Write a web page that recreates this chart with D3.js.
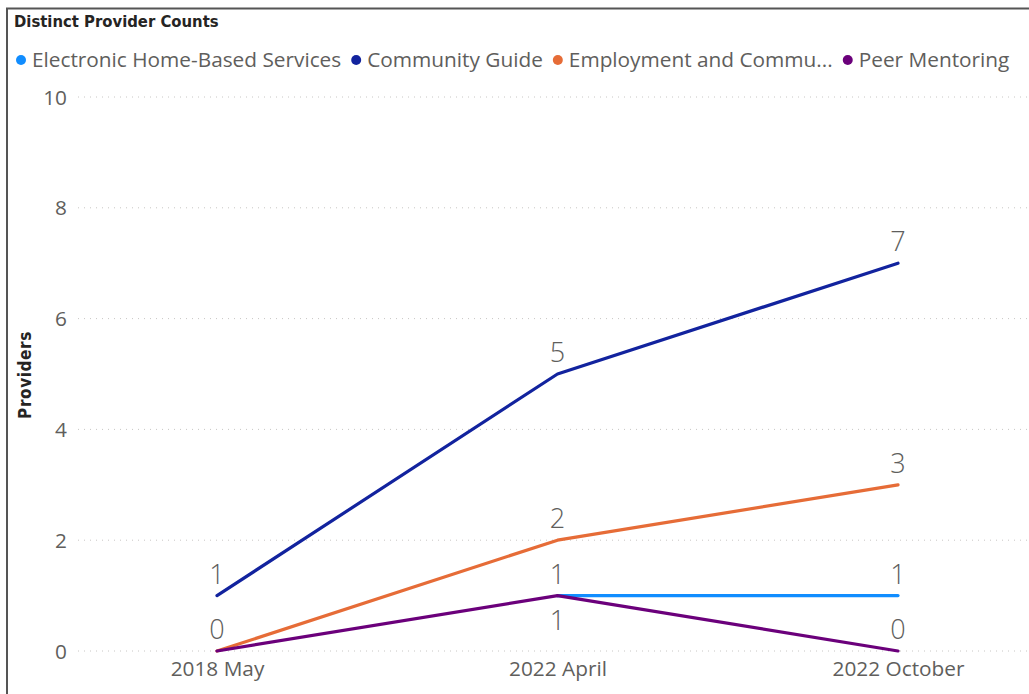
<!DOCTYPE html>
<html><head><meta charset="utf-8">
<script src="https://cdn.jsdelivr.net/npm/d3@7"></script>
<style>
html,body{margin:0;padding:0;background:#fff;}
svg{display:block;}
</style></head>
<body>
<svg id="chart" width="1029" height="694"></svg>
<script>
const title = "Distinct Provider Counts";
const yAxisTitle = "Providers";
const categories = ["2018 May", "2022 April", "2022 October"];
const seriesNames = ["Electronic Home-Based Services", "Community Guide", "Employment and Community Transportation", "Peer Mentoring"];
const legendLabels = ["Electronic Home-Based Services", "Community Guide", "Employment and Commu...", "Peer Mentoring"];
const seriesColors = ["#118DFF", "#12239E", "#E66C37", "#6B007B"];
const electronicValues = [null, 1, 1];
const communityGuideValues = [1, 5, 7];
const employmentValues = [0, 2, 3];
const peerMentoringValues = [0, 1, 0];
const yTicks = [0, 2, 4, 6, 8, 10];

const seriesValues = [electronicValues, communityGuideValues, employmentValues, peerMentoringValues];

const svg = d3.select("#chart");
const W = 1029, H = 694;

// frame
svg.append("rect").attr("x", 7).attr("y", 8.5).attr("width", W + 10).attr("height", H + 10)
  .attr("fill", "none").attr("stroke", "#555").attr("stroke-width", 2);

const titleFont = "'DejaVu Sans Condensed', 'Liberation Sans Narrow', sans-serif";
svg.append("text").attr("x", 14).attr("y", 27).text(title)
  .attr("font-family", titleFont).attr("font-weight", "bold")
  .attr("font-size", 16.5).attr("fill", "#252423");

// legend
const legendFont = "'Open Sans', 'Segoe UI', sans-serif";
const lg = svg.append("g");
let lx = 16;
legendLabels.forEach((name, i) => {
  lg.append("circle").attr("cx", lx + 5).attr("cy", 60).attr("r", 5).attr("fill", seriesColors[i]);
  const t = lg.append("text").attr("x", lx + 16).attr("y", 67).text(name)
    .attr("font-family", legendFont).attr("font-size", 20.8).attr("fill", "#605E5C");
  const w = t.node().getComputedTextLength();
  lx = lx + 16 + w + 10;
});

const y = d3.scaleLinear().domain([0, 10]).range([651, 97]);
const x = d3.scalePoint().domain(categories).range([217, 898]);

// gridlines
svg.append("g").selectAll("line").data(yTicks).join("line")
  .attr("x1", 78).attr("x2", W).attr("y1", d => y(d)).attr("y2", d => y(d))
  .attr("stroke", "#C8C6C4").attr("stroke-width", 1).attr("stroke-dasharray", "1,5");

// y axis
const yAxis = svg.append("g").attr("transform", "translate(67,0)")
  .call(d3.axisLeft(y).tickValues(yTicks).tickSize(0).tickPadding(0));
yAxis.select(".domain").remove();
yAxis.selectAll("text").attr("font-family", legendFont).attr("font-size", 20.8).attr("fill", "#605E5C")
  .attr("dy", "0.34em");

// x axis
const xAxis = svg.append("g").attr("transform", "translate(0,669)")
  .call(d3.axisBottom(x).tickSize(0).tickPadding(0));
xAxis.select(".domain").remove();
xAxis.selectAll("text").attr("font-family", legendFont).attr("font-size", 20.8).attr("fill", "#605E5C")
  .attr("dy", "0.35em").attr("y", 0);

svg.append("text").attr("transform", "translate(31,375) rotate(-90)").attr("text-anchor", "middle")
  .text(yAxisTitle).attr("font-family", titleFont).attr("font-weight", "bold")
  .attr("font-size", 17).attr("letter-spacing", 0.6).attr("fill", "#252423");

// lines
const line = d3.line().defined(d => d.v !== null).x(d => x(d.c)).y(d => y(d.v));
seriesValues.forEach((vals, i) => {
  const pts = categories.map((c, j) => ({ c, v: vals[j] }));
  svg.append("path").datum(pts).attr("d", line).attr("fill", "none")
    .attr("stroke", seriesColors[i]).attr("stroke-width", 3.2)
    .attr("stroke-linejoin", "round").attr("stroke-linecap", "round");
});

// data labels with simple collision handling (hide if no room)
const placed = [];
const labelH = 24, labelW = 16;
const plotBottom = y(0);
function collides(cx, cy) {
  return placed.some(p => Math.abs(p.x - cx) < labelW && Math.abs(p.y - cy) < labelH);
}
const labelOrder = [1, 2, 0, 3];
labelOrder.forEach(i => {
  seriesValues[i].forEach((v, j) => {
    if (v === null) return;
    const px = x(categories[j]), py = y(v);
    let ly = py - 22;
    if (collides(px, ly)) {
      ly = py + 24;
      if (collides(px, ly) || ly + 12 > plotBottom) return;
    }
    placed.push({ x: px, y: ly });
    svg.append("text").attr("x", px).attr("y", ly + 10).attr("text-anchor", "middle")
      .text(v).attr("font-family", legendFont).attr("font-weight", 300)
      .attr("font-size", 27).attr("fill", "#605E5C");
  });
});
</script>
</body></html>
